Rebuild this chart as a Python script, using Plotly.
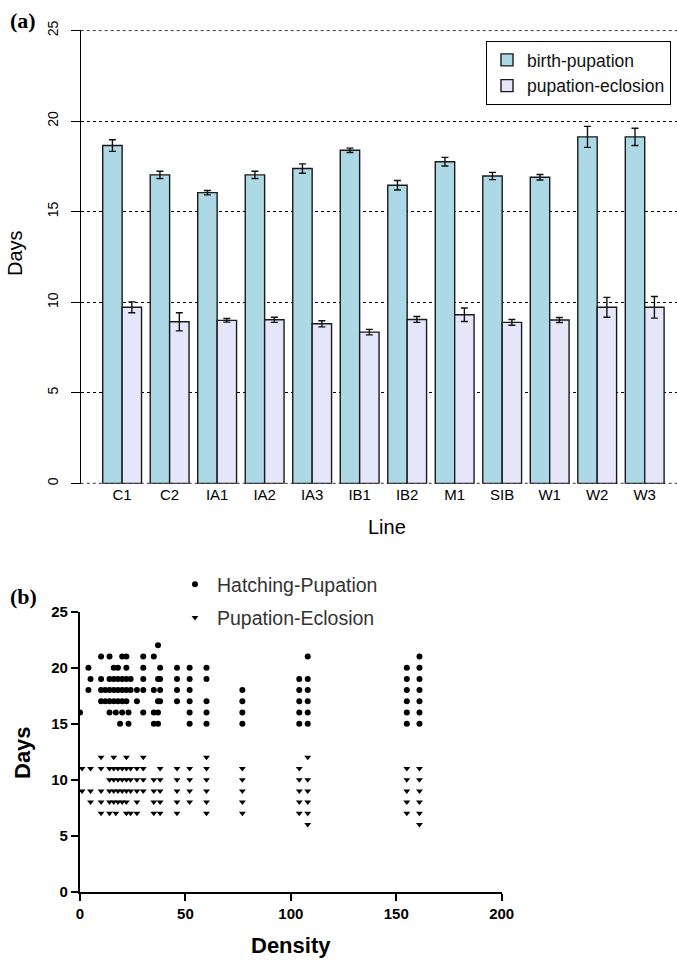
import plotly.graph_objects as go

# ---------------- Panel (a) data ----------------
lines = ["C1", "C2", "IA1", "IA2", "IA3", "IB1", "IB2", "M1", "SIB", "W1", "W2", "W3"]
birth_pupation = [18.65, 17.03, 16.05, 17.03, 17.38, 18.39, 16.46, 17.76, 16.97, 16.90, 19.13, 19.13]
birth_pupation_err = [0.32, 0.20, 0.12, 0.20, 0.26, 0.12, 0.26, 0.24, 0.20, 0.15, 0.58, 0.48]
pupation_eclosion = [9.72, 8.92, 9.00, 9.03, 8.81, 8.35, 9.05, 9.31, 8.89, 9.02, 9.72, 9.72]
pupation_eclosion_err = [0.30, 0.50, 0.10, 0.14, 0.17, 0.15, 0.16, 0.37, 0.16, 0.14, 0.55, 0.60]
a_yticks = [0, 5, 10, 15, 20, 25]

# ---------------- Panel (b) data ----------------
# each day value with the densities observed at that day
hatching_days = [22, 21, 20, 19, 18, 17, 16, 15]
hatching_density = [
    [37],
    [10, 14, 20, 22, 30, 35, 108, 161],
    [4, 16, 18, 22, 30, 38, 46, 52, 60, 155, 161],
    [5, 10, 14, 16, 18, 20, 22, 24, 30, 37, 38, 46, 52, 60, 104, 108, 155, 161],
    [4, 10, 12, 14, 16, 18, 20, 22, 24, 27, 30, 35, 38, 46, 52, 77, 104, 108, 155, 161],
    [10, 12, 14, 16, 18, 20, 22, 27, 37, 38, 46, 52, 60, 77, 104, 108, 155, 161],
    [0, 14, 17, 20, 23, 30, 35, 37, 52, 60, 77, 104, 108, 155, 161],
    [19, 23, 35, 37, 52, 60, 77, 104, 108, 155, 161],
]
eclosion_days = [12, 11, 10, 9, 8, 7, 6]
eclosion_density = [
    [10, 16, 22, 30, 60, 108],
    [1, 5, 10, 14, 16, 18, 20, 22, 24, 27, 30, 38, 46, 52, 60, 77, 104, 155, 161],
    [14, 16, 18, 20, 22, 24, 27, 30, 35, 38, 46, 52, 60, 77, 104, 108, 155, 161],
    [1, 5, 10, 14, 16, 18, 20, 22, 24, 27, 30, 35, 38, 46, 52, 60, 77, 104, 108, 155, 161],
    [5, 10, 14, 16, 18, 20, 22, 27, 35, 38, 46, 52, 60, 77, 104, 108, 155, 161],
    [10, 14, 17, 22, 24, 27, 35, 38, 46, 60, 77, 104, 108, 155, 161],
    [108, 161],
]
b_xticks = [0, 50, 100, 150, 200]
b_yticks = [0, 5, 10, 15, 20, 25]

hx, hy = [], []
for d, dens in zip(hatching_days, hatching_density):
    hx += dens
    hy += [d] * len(dens)
ex, ey = [], []
for d, dens in zip(eclosion_days, eclosion_density):
    ex += dens
    ey += [d] * len(dens)

W, H = 677, 961
def px(x):
    return x / W
def py(y):
    return 1 - y / H

SANS = "Liberation Sans, Arial, Helvetica, sans-serif"
SERIF = "Liberation Serif, Times New Roman, serif"

fig = go.Figure()
fig.add_trace(go.Bar(
    x=lines, y=birth_pupation, name="birth-pupation",
    marker=dict(color="#ADD8E6", line=dict(color="#1a1a1a", width=1.4)),
    error_y=dict(type="data", array=birth_pupation_err, color="#111", thickness=1.4, width=3.5),
    xaxis="x", yaxis="y", legend="legend"))
fig.add_trace(go.Bar(
    x=lines, y=pupation_eclosion, name="pupation-eclosion",
    marker=dict(color="#E6E6FA", line=dict(color="#1a1a1a", width=1.4)),
    error_y=dict(type="data", array=pupation_eclosion_err, color="#111", thickness=1.4, width=3.5),
    xaxis="x", yaxis="y", legend="legend"))

fig.add_trace(go.Scatter(
    x=hx, y=hy, mode="markers", name="Hatching-Pupation",
    marker=dict(symbol="circle", size=6, color="black"),
    xaxis="x2", yaxis="y2", legend="legend2", legendgroup="h"))
fig.add_trace(go.Scatter(
    x=ex, y=ey, mode="markers", name="Pupation-Eclosion",
    marker=dict(symbol="triangle-down", size=6, color="black"),
    xaxis="x2", yaxis="y2", legend="legend2", legendgroup="e"))

fig.update_layout(
    width=W, height=H, margin=dict(l=0, r=0, t=0, b=0, autoexpand=False),
    paper_bgcolor="white", plot_bgcolor="white",
    font=dict(family=SANS, color="black"),
    barmode="group", bargap=0.183, bargroupgap=0,
    showlegend=True,
    xaxis=dict(domain=[px(80.7), 1], range=[-0.872, 11.68], type="category",
               showline=False, ticks="", showgrid=False, zeroline=False, automargin=False,
               tickfont=dict(size=15, family=SANS), anchor="y"),
    yaxis=dict(domain=[py(483.7), py(30.2)], range=[-0.02, 25.02], tickvals=a_yticks,
               showline=True, linecolor="black", linewidth=1, automargin=False,
               ticks="outside", ticklen=9, tickcolor="black", tickwidth=1,
               tickangle=-90, ticklabelstandoff=7, tickfont=dict(size=14, family=SANS),
               showgrid=True, gridcolor="black", griddash="dot", gridwidth=1,
               zeroline=False, anchor="x"),
    xaxis2=dict(domain=[px(80), px(501.7)], range=[0, 200], tickvals=b_xticks,
                showline=True, linecolor="black", linewidth=2.2, automargin=False,
                ticks="outside", ticklen=7, tickwidth=2.2, tickcolor="black",
                tickfont=dict(size=15, family=SANS, weight="bold"),
                showgrid=False, zeroline=False, anchor="y2"),
    yaxis2=dict(domain=[py(891.7), py(611.7)], range=[0, 25], tickvals=b_yticks,
                showline=True, linecolor="black", linewidth=2.2, automargin=False,
                ticks="outside", ticklen=7, tickwidth=2.2, tickcolor="black",
                tickfont=dict(size=15, family=SANS, weight="bold"),
                showgrid=False, zeroline=False, anchor="x2"),
    legend=dict(x=px(486), y=py(41), xanchor="left", yanchor="top",
                bordercolor="black", borderwidth=1, bgcolor="white",
                font=dict(size=17.5, family=SANS, color="#111")),
    legend2=dict(x=px(173), y=py(565), xanchor="left", yanchor="top",
                 borderwidth=0, bgcolor="rgba(0,0,0,0)", tracegroupgap=5, itemwidth=34,
                 font=dict(size=19.5, family=SANS, color="#333")),
)

# dotted reference lines at the ends of the (a) value axis (plotly drops end gridlines)
for yv in (a_yticks[0], a_yticks[-1]):
    fig.add_shape(type="line", xref="x domain", yref="y", x0=0, x1=1, y0=yv, y1=yv,
                  line=dict(color="black", width=1, dash="dot"), layer="below")

annotations = [
    dict(text="<b>(a)</b>", x=px(23), y=py(20), font=dict(size=22, family=SERIF)),
    dict(text="Days", x=px(15), y=py(253), textangle=-90, font=dict(size=20, family=SANS)),
    dict(text="Line", x=px(387), y=py(527), font=dict(size=20, family=SANS)),
    dict(text="<b>(b)</b>", x=px(23), y=py(596), font=dict(size=22, family=SERIF)),
    dict(text="<b>Days</b>", x=px(22), y=py(752), textangle=-90, font=dict(size=22, family=SANS)),
    dict(text="<b>Density</b>", x=px(291), y=py(945), font=dict(size=22, family=SANS)),
]
for a in annotations:
    a.update(xref="paper", yref="paper", showarrow=False, xanchor="center", yanchor="middle")
fig.update_layout(annotations=annotations)

fig.write_html("out.html", config={"displayModeBar": False},
               post_script="document.body.style.margin='0';")
